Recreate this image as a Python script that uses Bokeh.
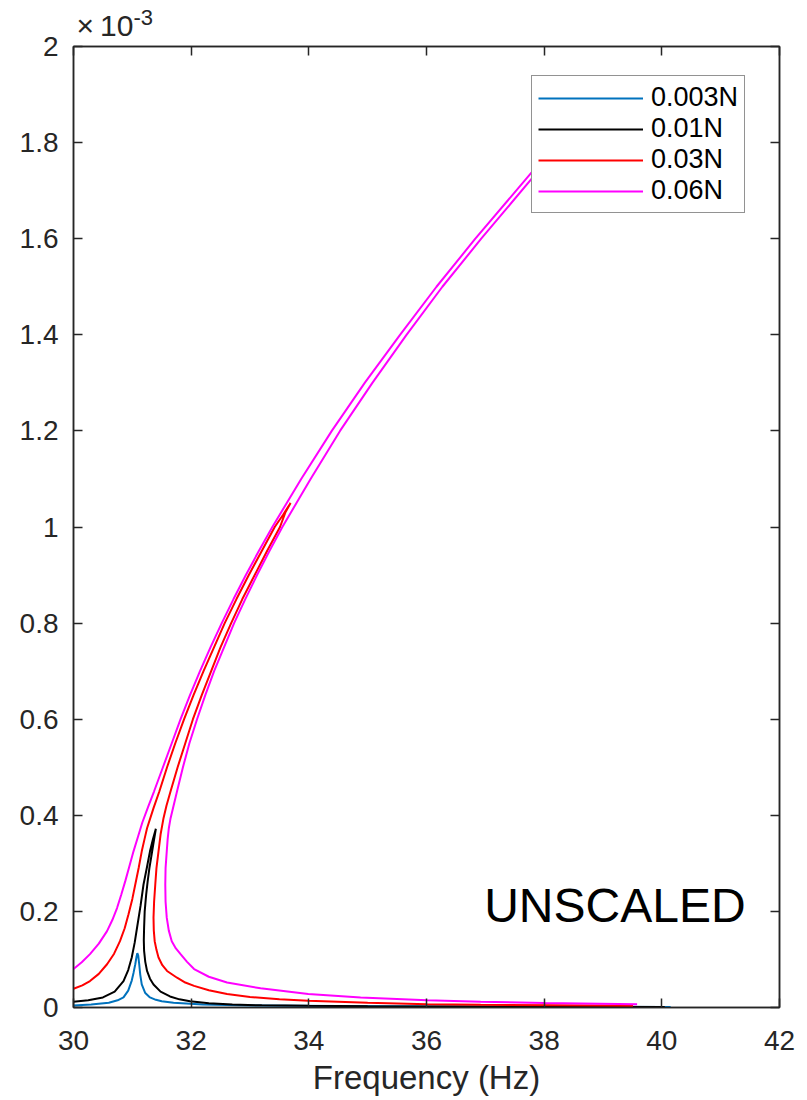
from bokeh.plotting import figure
from bokeh.models import FixedTicker, LinearAxis, Label, Legend, LegendItem, Range1d, Title
from bokeh.embed import file_html
from bokeh.resources import INLINE

# ---------------- data (frequency in Hz, amplitude in units of 1e-3) ----------------
f_003 = [30.00, 30.30, 30.60, 30.75, 30.85, 30.93, 30.99, 31.02, 31.05, 31.07, 31.085,
         31.10, 31.117, 31.135, 31.16, 31.22, 31.30, 31.40, 31.50, 31.70, 32.20, 33.00,
         34.50, 36.50, 38.50, 40.15]
a_003 = [0.004, 0.006, 0.010, 0.015, 0.021, 0.035, 0.056, 0.072, 0.090, 0.105, 0.113,
         0.108, 0.090, 0.068, 0.048, 0.030, 0.021, 0.016, 0.013, 0.010, 0.006, 0.004,
         0.003, 0.002, 0.0015, 0.001]

f_01 = [30.00, 30.25, 30.50, 30.70, 30.85, 30.93, 30.99, 31.04, 31.08, 31.14, 31.19,
        31.25, 31.30, 31.35, 31.40,
        31.37, 31.33, 31.29, 31.26, 31.235, 31.21, 31.20, 31.195, 31.20, 31.22, 31.25,
        31.30, 31.36, 31.48, 31.64, 31.80, 31.98, 32.30, 32.70, 33.20, 34.00, 35.00,
        36.50, 38.50, 40.05]
a_01 = [0.012, 0.015, 0.021, 0.033, 0.055, 0.078, 0.104, 0.135, 0.166, 0.212, 0.256,
        0.293, 0.325, 0.350, 0.372,
        0.350, 0.320, 0.290, 0.262, 0.235, 0.200, 0.166, 0.140, 0.118, 0.095, 0.076,
        0.060, 0.048, 0.033, 0.023, 0.017, 0.013, 0.009, 0.006, 0.0045, 0.0035, 0.0028,
        0.002, 0.0015, 0.0012]

f_03 = [30.00, 30.15, 30.28, 30.43, 30.57, 30.69, 30.79, 30.87, 30.935, 31.00, 31.05,
        31.11, 31.16, 31.21, 31.25, 31.36, 31.46, 31.59, 31.73, 31.88, 32.04, 32.21,
        32.39, 32.57, 32.77, 32.98, 33.20, 33.42, 33.56, 33.69,
        33.60, 33.51, 33.29, 33.08, 32.87, 32.68, 32.50, 32.34, 32.18, 32.03, 31.90,
        31.77, 31.65, 31.58, 31.53, 31.48, 31.445, 31.41, 31.39, 31.37, 31.36, 31.365,
        31.38, 31.41, 31.445, 31.51, 31.59, 31.76, 31.90, 32.05, 32.30, 32.61, 33.00,
        33.50, 33.99, 35.00, 36.01, 36.92, 38.20, 39.51]
a_03 = [0.039, 0.046, 0.055, 0.070, 0.090, 0.112, 0.138, 0.165, 0.194, 0.226, 0.256,
        0.292, 0.325, 0.352, 0.373, 0.415, 0.450, 0.500, 0.550, 0.600, 0.650, 0.700,
        0.750, 0.800, 0.850, 0.900, 0.950, 1.000, 1.025, 1.050,
        1.030, 1.000, 0.950, 0.900, 0.850, 0.800, 0.750, 0.700, 0.650, 0.600, 0.550,
        0.500, 0.450, 0.420, 0.394, 0.360, 0.325, 0.290, 0.256, 0.220, 0.187, 0.160,
        0.138, 0.120, 0.104, 0.088, 0.076, 0.062, 0.052, 0.045, 0.036, 0.028, 0.022,
        0.017, 0.014, 0.010, 0.007, 0.0055, 0.0045, 0.0035]

f_06 = [30.00, 30.14, 30.28, 30.43, 30.57, 30.66, 30.74, 30.81, 30.88, 30.95, 31.02,
        31.10, 31.17, 31.27, 31.37, 31.52, 31.67, 31.82, 31.98, 32.15, 32.33, 32.52,
        32.72, 32.93, 33.15, 33.38, 33.87, 34.39, 34.95, 35.55, 36.17, 36.83, 37.87,
        38.38, 38.86,
        38.46, 37.96, 36.93, 36.27, 35.66, 35.08, 34.53, 34.03, 33.55, 33.33, 33.12,
        32.92, 32.73, 32.56, 32.39, 32.24, 32.10, 31.97, 31.86, 31.76, 31.65, 31.62,
        31.60, 31.585, 31.565, 31.56, 31.565, 31.585, 31.62, 31.67, 31.74, 31.82, 31.93,
        32.05, 32.30, 32.61, 33.18, 33.99, 34.88, 36.01, 36.92, 38.00, 39.58]
a_06 = [0.080, 0.094, 0.111, 0.133, 0.159, 0.182, 0.207, 0.234, 0.263, 0.294, 0.325,
        0.357, 0.385, 0.418, 0.450, 0.500, 0.550, 0.600, 0.650, 0.700, 0.750, 0.800,
        0.850, 0.900, 0.950, 1.000, 1.100, 1.200, 1.300, 1.400, 1.500, 1.600, 1.750,
        1.820, 1.880,
        1.820, 1.750, 1.600, 1.500, 1.400, 1.300, 1.200, 1.100, 1.000, 0.950, 0.900,
        0.850, 0.800, 0.750, 0.700, 0.650, 0.600, 0.550, 0.500, 0.450, 0.394, 0.373,
        0.350, 0.325, 0.290, 0.256, 0.220, 0.187, 0.160, 0.138, 0.123, 0.111, 0.095,
        0.080, 0.064, 0.052, 0.040, 0.028, 0.021, 0.015, 0.012, 0.0095, 0.007]

labels = ["0.003N", "0.01N", "0.03N", "0.06N"]
colors = ["#0072BD", "#000000", "#FF0000", "#FF00FF"]

x_ticks = [30, 32, 34, 36, 38, 40, 42]
y_ticks = [0, 0.2, 0.4, 0.6, 0.8, 1, 1.2, 1.4, 1.6, 1.8, 2]
y_tick_text = ["0", "0.2", "0.4", "0.6", "0.8", "1", "1.2", "1.4", "1.6", "1.8", "2"]

FONT = "Liberation Sans"
AX = "#262626"

p = figure(width=800, height=1098, x_range=Range1d(30, 42), y_range=Range1d(0, 2),
           output_backend="svg", toolbar_location=None,
           min_border_left=73, min_border_right=21, min_border_top=46, min_border_bottom=88)
p.grid.visible = False
p.outline_line_color = AX
p.outline_line_width = 1.5
p.background_fill_color = "white"
p.border_fill_color = "white"

series = [(f_003, a_003), (f_01, a_01), (f_03, a_03), (f_06, a_06)]
renderers = []
for (fx, ay), c in zip(series, colors):
    renderers.append(p.line(fx, ay, line_color=c, line_width=2))

def style_axis(ax, show_labels):
    ax.axis_line_color = AX
    ax.axis_line_width = 1.5
    ax.major_tick_line_color = AX
    ax.major_tick_line_width = 1.5
    ax.major_tick_in = 9
    ax.major_tick_out = 0
    ax.minor_tick_line_color = None
    ax.major_label_text_font = FONT
    if show_labels:
        ax.major_label_text_font_size = "28px"
        ax.major_label_text_color = AX
    else:
        ax.major_label_text_font_size = "0px"
        ax.major_label_text_color = None
        ax.major_label_standoff = 0

xb = p.xaxis[0]
yl = p.yaxis[0]
xb.ticker = FixedTicker(ticks=x_ticks)
yl.ticker = FixedTicker(ticks=y_ticks)
yl.major_label_overrides = {t: s for t, s in zip(y_ticks, y_tick_text)}
style_axis(xb, True)
style_axis(yl, True)
xb.major_label_standoff = 23
yl.major_label_standoff = 15
xb.axis_label = "Frequency (Hz)"
xb.axis_label_text_font = FONT
xb.axis_label_text_font_size = "33px"
xb.axis_label_text_font_style = "normal"
xb.axis_label_text_color = AX
xb.axis_label_standoff = 6

xt = LinearAxis(ticker=FixedTicker(ticks=x_ticks))
yr = LinearAxis(ticker=FixedTicker(ticks=y_ticks))
style_axis(xt, False)
style_axis(yr, False)
p.add_layout(xt, "above")
p.add_layout(yr, "right")

# exponent label (x10^-3) above the top-left corner
p.add_layout(Title(text="×\u200910", align="left", offset=3, text_font=FONT,
                   text_font_size="30px", text_font_style="normal", text_color=AX,
                   standoff=9), "above")
p.add_layout(Title(text="-3", align="left", offset=60, text_font=FONT,
                   text_font_size="22px", text_font_style="normal", text_color=AX,
                   standoff=-44), "above")

legend = Legend(items=[LegendItem(label=l, renderers=[r]) for l, r in zip(labels, renderers)],
                location=(458, 794), orientation="vertical")
legend.label_text_font = FONT
legend.label_text_font_size = "27px"
legend.label_text_color = "#000000"
legend.glyph_width = 105
legend.glyph_height = 30
legend.label_height = 30
legend.label_standoff = 8
legend.spacing = 0
legend.padding = 6
legend.margin = 0
legend.border_line_color = AX
legend.border_line_width = 1.5
legend.background_fill_color = "white"
legend.background_fill_alpha = 1.0
p.add_layout(legend)

p.add_layout(Label(x=36.98, y=0.212, text="UNSCALED", text_font=FONT, text_font_size="48px",
                   text_color="#000000", text_baseline="alphabetic"))

open("out.html", "w").write(file_html(p, INLINE))
